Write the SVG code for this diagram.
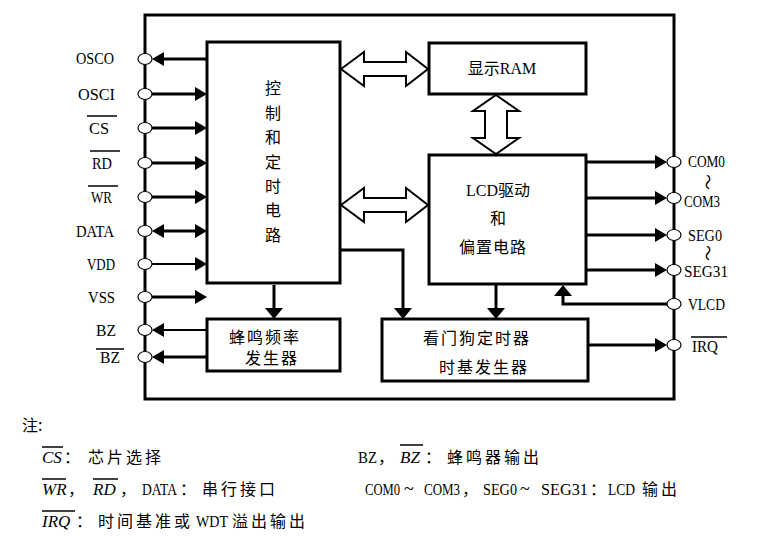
<svg xmlns="http://www.w3.org/2000/svg" width="777" height="555" viewBox="0 0 777 555">
<style>
.ln{stroke:#000;stroke-width:3;fill:none}
.ln2{stroke:#000;stroke-width:2;fill:none}
.box{stroke:#000;stroke-width:3;fill:#fff}
.pin{fill:#fff;stroke:#000;stroke-width:1.2}
.bar{stroke:#000;stroke-width:1.5}
.blk{fill:#fff;stroke:#000;stroke-width:2}
.t{font-family:"Liberation Serif","Noto Sans CJK SC",serif;font-size:16px;fill:#000}
.c{font-family:"Noto Sans CJK SC","Liberation Serif",sans-serif;font-size:16px;fill:#000}
.i{font-family:"Liberation Serif",serif;font-style:italic;font-size:17px;fill:#000}
</style>
<defs>
<marker id="ah" viewBox="0 0 12 14" refX="6" refY="7" markerWidth="12" markerHeight="14" markerUnits="userSpaceOnUse" orient="auto-start-reverse">
<path d="M0,0 L12,7 L0,14 z" fill="#000"/>
</marker>
<marker id="ahd" viewBox="0 0 11 18" refX="5" refY="9" markerWidth="11" markerHeight="18" markerUnits="userSpaceOnUse" orient="auto">
<path d="M0,0 L11,9 L0,18 z" fill="#000"/>
</marker>
</defs>
<rect width="777" height="555" fill="#fff"/>

<g id="chip">
<rect x="145" y="15" width="529" height="384" class="ln"/>
</g>

<g id="ctrl">
<rect x="207" y="42" width="133" height="241" class="box"/>
<g class="c" text-anchor="middle">
<text x="273" y="94">控</text>
<text x="273" y="119">制</text>
<text x="273" y="143">和</text>
<text x="273" y="168">定</text>
<text x="273" y="192">时</text>
<text x="273" y="216">电</text>
<text x="273" y="241">路</text>
</g>
</g>

<g id="ram">
<rect x="429" y="43" width="157" height="51" class="box"/>
<text class="t" x="502" y="74" text-anchor="middle">显示RAM</text>
</g>

<g id="lcd">
<rect x="429" y="155" width="157" height="129" class="box"/>
<text class="t" x="498" y="196" text-anchor="middle">LCD驱动</text>
<text class="c" x="498" y="224" text-anchor="middle">和</text>
<text class="c" x="493" y="253" text-anchor="middle" letter-spacing="1">偏置电路</text>
</g>

<g id="buzzer">
<rect x="207" y="319" width="133" height="52" class="box"/>
<text class="c" x="265" y="343" text-anchor="middle" letter-spacing="2">蜂鸣频率</text>
<text class="c" x="272" y="364" text-anchor="middle" letter-spacing="2">发生器</text>
</g>

<g id="wdt">
<rect x="382" y="319" width="206" height="62" class="box"/>
<text class="c" x="477" y="344" text-anchor="middle" letter-spacing="2">看门狗定时器</text>
<text class="c" x="484" y="373" text-anchor="middle" letter-spacing="2">时基发生器</text>
</g>

<g id="connectors">
<path class="ln" d="M207,59 H158" marker-end="url(#ah)"/>
<path class="ln" d="M152,94 H201" marker-end="url(#ah)"/>
<path class="ln" d="M152,128 H201" marker-end="url(#ah)"/>
<path class="ln" d="M152,163 H201" marker-end="url(#ah)"/>
<path class="ln" d="M152,197 H201" marker-end="url(#ah)"/>
<path class="ln" d="M158,231 H201" marker-start="url(#ah)" marker-end="url(#ah)"/>
<path class="ln2" d="M152,264 H201" marker-end="url(#ah)"/>
<path class="ln" d="M152,297 H201" marker-end="url(#ah)"/>
<path class="ln2" d="M207,330 H158" marker-end="url(#ah)"/>
<path class="ln" d="M207,357 H158" marker-end="url(#ah)"/>
<path class="ln" d="M586,162 H661" marker-end="url(#ah)"/>
<path class="ln" d="M586,198 H661" marker-end="url(#ah)"/>
<path class="ln" d="M586,235 H661" marker-end="url(#ah)"/>
<path class="ln" d="M586,270 H661" marker-end="url(#ah)"/>
<path class="ln" d="M667,304 H563 V291" marker-end="url(#ahd)"/>
<path class="ln" d="M588,345 H661" marker-end="url(#ah)"/>
<path class="ln" d="M274,285 V313" marker-end="url(#ahd)"/>
<path class="ln" d="M340,250 H403 V313" marker-end="url(#ahd)"/>
<path class="ln" d="M496,285 V313" marker-end="url(#ahd)"/>
<polygon class="blk" points="341,69 364,52 364,62 406,62 406,52 428,69 406,86 406,76 364,76 364,86"/>
<polygon class="blk" points="341,205 364,188 364,198 406,198 406,188 428,205 406,222 406,212 364,212 364,222"/>
<polygon class="blk" points="496,95 519,111 507,111 507,138 519,138 496,154 473,138 485,138 485,111 473,111"/>
</g>

<g id="pins">
<ellipse class="pin" cx="145" cy="59" rx="7" ry="5.5"/>
<ellipse class="pin" cx="145" cy="94" rx="7" ry="5.5"/>
<ellipse class="pin" cx="145" cy="128" rx="7" ry="5.5"/>
<ellipse class="pin" cx="145" cy="163" rx="7" ry="5.5"/>
<ellipse class="pin" cx="145" cy="197" rx="7" ry="5.5"/>
<ellipse class="pin" cx="145" cy="231" rx="7" ry="5.5"/>
<ellipse class="pin" cx="145" cy="264" rx="7" ry="5.5"/>
<ellipse class="pin" cx="145" cy="297" rx="7" ry="5.5"/>
<ellipse class="pin" cx="145" cy="330" rx="7" ry="5.5"/>
<ellipse class="pin" cx="145" cy="357" rx="7" ry="5.5"/>
<ellipse class="pin" cx="674" cy="162" rx="7" ry="5.5"/>
<ellipse class="pin" cx="674" cy="198" rx="7" ry="5.5"/>
<ellipse class="pin" cx="674" cy="235" rx="7" ry="5.5"/>
<ellipse class="pin" cx="674" cy="270" rx="7" ry="5.5"/>
<ellipse class="pin" cx="674" cy="304" rx="7" ry="5.5"/>
<ellipse class="pin" cx="674" cy="345" rx="7" ry="5.5"/>
</g>

<g id="pin-labels" class="t">
<text x="76" y="64" textLength="38" lengthAdjust="spacingAndGlyphs">OSCO</text>
<text x="78" y="100" textLength="37" lengthAdjust="spacingAndGlyphs">OSCI</text>
<text x="89" y="134" textLength="20" lengthAdjust="spacingAndGlyphs">CS</text>
<line class="bar" x1="87" y1="116" x2="117" y2="116"/>
<text x="92" y="169" textLength="20" lengthAdjust="spacingAndGlyphs">RD</text>
<line class="bar" x1="90" y1="151" x2="120" y2="151"/>
<text x="91" y="203" textLength="21" lengthAdjust="spacingAndGlyphs">WR</text>
<line class="bar" x1="88" y1="186" x2="118" y2="186"/>
<text x="76" y="237" textLength="38" lengthAdjust="spacingAndGlyphs">DATA</text>
<text x="87" y="270" textLength="28" lengthAdjust="spacingAndGlyphs">VDD</text>
<text x="88" y="303" textLength="27" lengthAdjust="spacingAndGlyphs">VSS</text>
<text x="96" y="336" textLength="20" lengthAdjust="spacingAndGlyphs">BZ</text>
<text x="100" y="363" textLength="20" lengthAdjust="spacingAndGlyphs">BZ</text>
<line class="bar" x1="96" y1="349" x2="124" y2="349"/>
<text x="688" y="167" textLength="37" lengthAdjust="spacingAndGlyphs">COM0</text>
<text class="c" x="708" y="188" text-anchor="middle" transform="rotate(90 708 182)" font-size="15">～</text>
<text x="684" y="207" textLength="36" lengthAdjust="spacingAndGlyphs">COM3</text>
<text x="688" y="241" textLength="34" lengthAdjust="spacingAndGlyphs">SEG0</text>
<text class="c" x="708" y="259" text-anchor="middle" transform="rotate(90 708 253)" font-size="15">～</text>
<text x="684" y="277" textLength="44" lengthAdjust="spacingAndGlyphs">SEG31</text>
<text x="688" y="310" textLength="37" lengthAdjust="spacingAndGlyphs">VLCD</text>
<text x="692" y="352" textLength="26" lengthAdjust="spacingAndGlyphs">IRQ</text>
<line class="bar" x1="691" y1="337" x2="727" y2="337"/>
</g>

<g id="notes">
<text class="c" x="22" y="431">注:</text>
<text class="i" x="42" y="463">CS</text>
<line class="bar" x1="42" y1="447" x2="63" y2="447"/>
<text class="c" y="463"><tspan x="64">：</tspan><tspan x="88" letter-spacing="3">芯片选择</tspan></text>

<text class="i" x="42" y="495">WR</text>
<line class="bar" x1="42" y1="479" x2="66" y2="479"/>
<text class="c" x="68" y="495">，</text>
<text class="i" x="93" y="495">RD</text>
<line class="bar" x1="93" y1="479" x2="118" y2="479"/>
<text class="t" y="495"><tspan x="120">，</tspan><tspan x="142" textLength="35" lengthAdjust="spacingAndGlyphs">DATA</tspan><tspan x="180">：</tspan><tspan x="202" letter-spacing="3">串行接口</tspan></text>

<text class="i" x="42" y="527">IRQ</text>
<line class="bar" x1="42" y1="511" x2="75" y2="511"/>
<text class="t" y="527"><tspan x="76">：</tspan><tspan x="98" letter-spacing="3">时间基准或</tspan><tspan x="196" textLength="32" lengthAdjust="spacingAndGlyphs">WDT</tspan><tspan x="232" letter-spacing="3">溢出输出</tspan></text>

<text class="t" y="463"><tspan x="358" textLength="19" lengthAdjust="spacingAndGlyphs">BZ</tspan><tspan x="378">，</tspan></text>
<text class="i" x="400" y="463">BZ</text>
<line class="bar" x1="400" y1="445" x2="423" y2="445"/>
<text class="c" y="463"><tspan x="425">：</tspan><tspan x="447" letter-spacing="3">蜂鸣器输出</tspan></text>

<text class="t" y="495"><tspan x="365" textLength="35" lengthAdjust="spacingAndGlyphs">COM0</tspan><tspan x="404" font-size="18">~</tspan><tspan x="424" textLength="36" lengthAdjust="spacingAndGlyphs">COM3</tspan><tspan x="462">，</tspan><tspan x="483" textLength="34" lengthAdjust="spacingAndGlyphs">SEG0</tspan><tspan x="520" font-size="18">~</tspan><tspan x="541" textLength="47" lengthAdjust="spacingAndGlyphs">SEG31</tspan><tspan x="590">：</tspan><tspan x="608" textLength="27" lengthAdjust="spacingAndGlyphs">LCD</tspan><tspan x="642" letter-spacing="3">输出</tspan></text>
</g>
</svg>
